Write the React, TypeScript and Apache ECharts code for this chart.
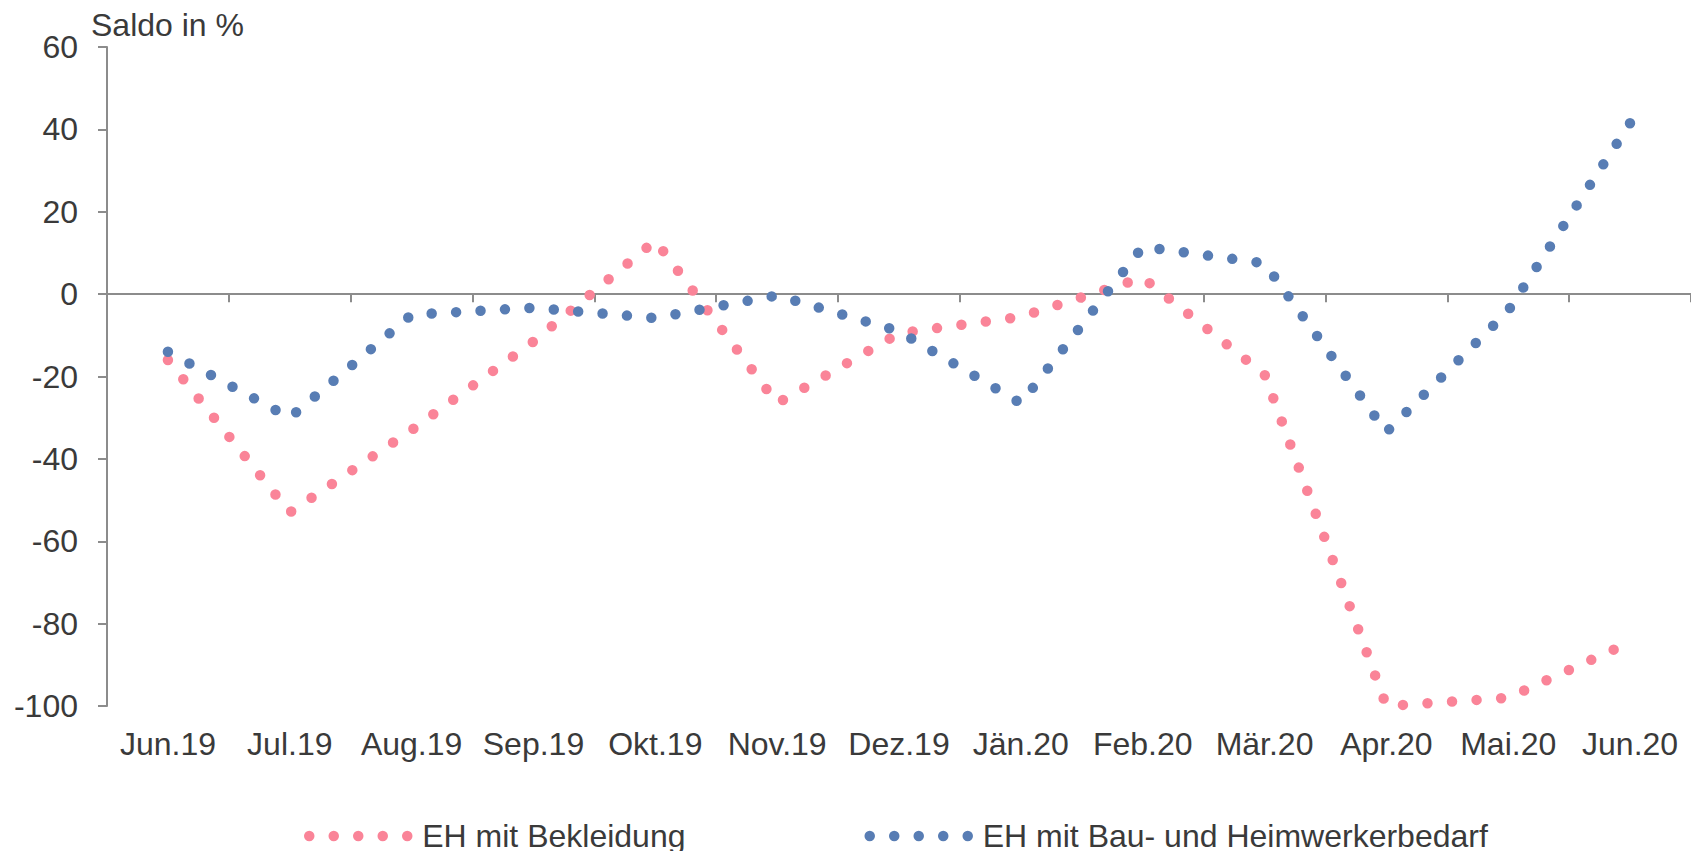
import React, { useEffect, useRef } from 'react';
import * as echarts from 'echarts';

const months = ['Jun.19', 'Jul.19', 'Aug.19', 'Sep.19', 'Okt.19', 'Nov.19', 'Dez.19', 'Jän.20', 'Feb.20', 'Mär.20', 'Apr.20', 'Mai.20', 'Jun.20'];
const bekleidung = [-16, -53, -33, -11.5, 13, -26.5, -9.5, -5.5, 4, -19.5, -100, -98, -84.5];
const bauHeimwerker = [-14, -30, -5, -3.3, -5.8, -0.3, -9, -26.5, 11.5, 7.5, -33.5, -4, 41.5];
const yMin = -100;
const yMax = 60;
const yStep = 20;
const seriesNames = ['EH mit Bekleidung', 'EH mit Bau- und Heimwerkerbedarf'];
const yTitle = 'Saldo in %';

export default function App() {
  const ref = useRef<HTMLDivElement>(null);

  useEffect(() => {
    if (!ref.current) return;
    const chart = echarts.init(ref.current, null, { renderer: 'svg' });
    const font = "'Liberation Sans', Arial, sans-serif";
    const axisColor = '#8c8c8c';
    const textColor = '#3a3a3a';
    const pink = '#fa8498';
    const blue = '#587db4';
    const dotLine = (color: string, gap: number) => ({ color, width: 10.5, type: [0, gap], cap: 'round' as const });

    chart.setOption({
      animation: false,
      backgroundColor: '#ffffff',
      grid: { left: 107, top: 47, width: 1590, height: 659, containLabel: false },
      graphic: [
        {
          type: 'text',
          x: 91,
          y: 25,
          style: {
            text: yTitle,
            fontSize: 32,
            fontFamily: font,
            fill: textColor,
            align: 'left',
            verticalAlign: 'middle',
          },
        },
      ],
      legend: {
        data: seriesNames,
        left: 304,
        top: 820,
        padding: 0,
        itemGap: 179,
        itemWidth: 108,
        itemHeight: 10,
        itemStyle: { opacity: 0 },
        lineStyle: { width: 10.5, type: [0, 24.5], cap: 'round' },
        textStyle: { fontSize: 32, fontFamily: font, color: textColor },
      },
      xAxis: [
        {
          type: 'category',
          data: months,
          boundaryGap: true,
          axisLine: { show: false, onZero: false },
          axisTick: { show: false },
          axisLabel: { interval: 0, margin: 22, fontSize: 32, color: textColor, fontFamily: font },
        },
        {
          type: 'category',
          data: months,
          boundaryGap: true,
          position: 'bottom',
          axisLine: { show: true, onZero: true, lineStyle: { color: axisColor, width: 2 } },
          axisTick: { show: true, interval: 0, length: 8, lineStyle: { color: axisColor, width: 2 } },
          axisLabel: { show: false },
          splitLine: { show: false },
        },
      ],
      yAxis: {
        type: 'value',
        min: yMin,
        max: yMax,
        interval: yStep,
        axisLine: { show: true, onZero: false, lineStyle: { color: axisColor, width: 2 } },
        axisTick: { show: true, length: 9, lineStyle: { color: axisColor, width: 2 } },
        splitLine: { show: false },
        axisLabel: { margin: 29, fontSize: 32, color: textColor, fontFamily: font },
      },
      series: [
        {
          name: seriesNames[0],
          type: 'line',
          xAxisIndex: 0,
          data: bekleidung,
          symbol: 'none',
          itemStyle: { color: pink },
          lineStyle: dotLine(pink, 24.6),
        },
        {
          name: seriesNames[1],
          type: 'line',
          xAxisIndex: 0,
          data: bauHeimwerker,
          symbol: 'none',
          itemStyle: { color: blue },
          lineStyle: dotLine(blue, 24.6),
        },
      ],
    });

    // Fit the blue dot spacing so that a dot lands on the last data point
    try {
      const pts = bauHeimwerker.map((v, i) => chart.convertToPixel({ xAxisIndex: 0, yAxisIndex: 0 }, [i, v]) as number[]);
      let len = 0;
      for (let i = 1; i < pts.length; i++) {
        len += Math.hypot(pts[i][0] - pts[i - 1][0], pts[i][1] - pts[i - 1][1]);
      }
      const n = Math.round(len / 24.6);
      if (n > 0 && isFinite(len)) {
        const gap = len / n - 0.002;
        chart.setOption({
          series: [{}, { lineStyle: dotLine(blue, gap) }],
        });
      }
    } catch (e) {
      // keep default spacing
    }

    return () => chart.dispose();
  }, []);

  return (
    <div
      ref={ref}
      style={{ position: 'fixed', left: 0, top: 0, width: 1691, height: 851, background: '#fff' }}
    />
  );
}
